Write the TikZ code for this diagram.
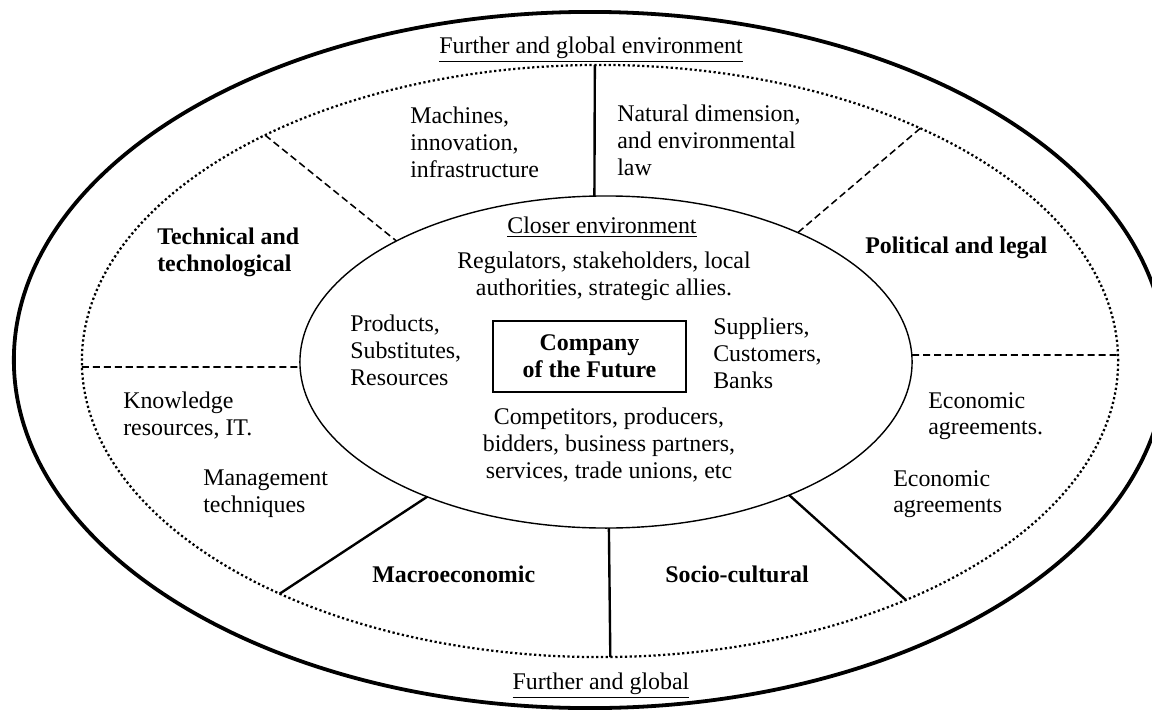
\documentclass[tikz,border=0pt]{standalone}
\usepackage{fontspec}
\setmainfont{Liberation Serif}
\usetikzlibrary{shapes.geometric}

\begin{document}
\begin{tikzpicture}[x=0.025cm, y=-0.025cm,
    ring/.style={ellipse, draw=black, inner sep=0pt, outer sep=0pt},
    txt/.style={inner sep=0pt, align=left, anchor=north west,
        font=\fontsize{17}{19}\selectfont},
    sector/.style={txt, font=\fontsize{17}{19}\selectfont\bfseries},
    heading/.style={txt, anchor=north, align=center},
    divline/.style={line width=1.7pt},
    dashline/.style={line width=1.1pt, dash pattern=on 5pt off 2.8pt}
]
    \useasboundingbox (0,0) rectangle (1152,711);
    \clip (0,0) rectangle (1152,711);
    \node[ring, line width=2.7pt, minimum width=28.8cm, minimum height=17.4cm] (outer) at (590,360) {};
    \node[ring, line width=1.6pt, dash pattern=on 1.6pt off 1.8pt,
        minimum width=25.9cm, minimum height=14.8cm] (dotted) at (600,361) {};
    \node[ring, line width=1pt, minimum width=15.3cm, minimum height=8.3cm] (inner) at (606,362) {};
    \node[draw=black, line width=1pt, minimum width=4.825cm, minimum height=1.775cm,
        align=center, inner sep=0pt, font=\fontsize{17}{19}\selectfont\bfseries]
        (company) at (589.5,356.5) {Company\\of the Future};
    \draw[divline] (dotted.91.5) -- (inner.94.8);
    \draw[divline] (inner.271.4) -- (dotted.272.3);
    \draw[divline] (inner.217) -- (dotted.216.9);
    \draw[divline] (inner.324.6) -- (dotted.322.9);
    \draw[dashline] (dotted.146.7) -- (inner.150.2);
    \draw[dashline] (dotted.36.1) -- (inner.34.4);
    \draw[dashline] ([yshift=-0.15cm]dotted.west) -- ([yshift=-0.125cm]inner.west);
    \draw[dashline] ([yshift=0.175cm]inner.east) -- ([yshift=0.15cm]dotted.east);
    \node[heading] (further) at (591,37) {\underline{Further and global environment}};
    \node[txt] (machines) at (410,107) {Machines,\\innovation,\\infrastructure};
    \node[txt] (natural) at (617,105) {Natural dimension,\\and environmental\\law};
    \node[sector] (technical) at (157,228) {Technical and\\technological};
    \node[sector] (political) at (865,237) {Political and legal};
    \node[heading] (closer) at (602,217) {\underline{Closer environment}};
    \node[heading] (regulators) at (604,252) {Regulators, stakeholders, local\\authorities, strategic allies.};
    \node[txt] (products) at (350,315) {Products,\\Substitutes,\\Resources};
    \node[txt] (suppliers) at (713,318) {Suppliers,\\Customers,\\Banks};
    \node[heading] (competitors) at (609,408) {Competitors, producers,\\bidders, business partners,\\services, trade unions, etc};
    \node[txt] (knowledge) at (123,392) {Knowledge\\resources, IT.};
    \node[txt] (management) at (203,470) {Management\\techniques};
    \node[txt] (economic) at (928,392) {Economic\\agreements.};
    \node[txt] (agreements) at (893,470) {Economic\\agreements};
    \node[sector] (macro) at (372,566) {Macroeconomic};
    \node[sector] (socio) at (665,566) {Socio-cultural};
    \node[heading] (global) at (601,673) {\underline{Further and global}};
\end{tikzpicture}
\end{document}
